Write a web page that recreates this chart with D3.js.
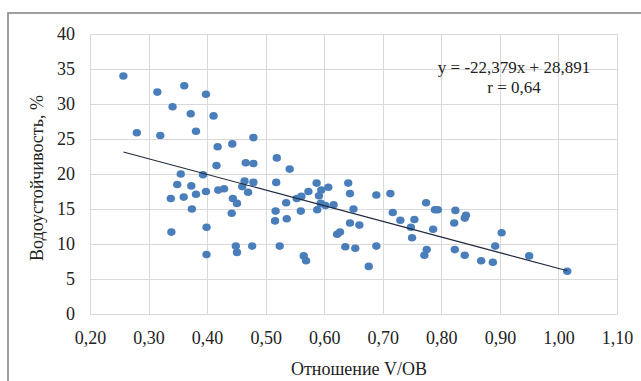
<!DOCTYPE html>
<html><head><meta charset="utf-8">
<script src="https://cdn.jsdelivr.net/npm/d3@7"></script>
<style>body{margin:0;background:#fff}svg{display:block}</style>
</head><body><svg id="c" width="641" height="381"></svg>
<script>
const xRatio = [0.257,0.280,0.315,0.320,0.338,0.339,0.341,0.349,0.355,0.360,0.361,0.372,0.373,0.374,0.381,0.381,0.393,0.398,0.398,0.399,0.399,0.411,0.416,0.418,0.419,0.429,0.442,0.443,0.444,0.449,0.451,0.451,0.460,0.464,0.466,0.470,0.477,0.479,0.479,0.479,0.516,0.517,0.518,0.519,0.524,0.535,0.536,0.541,0.553,0.561,0.560,0.565,0.569,0.573,0.587,0.588,0.591,0.594,0.595,0.602,0.607,0.616,0.622,0.627,0.636,0.641,0.644,0.644,0.650,0.653,0.660,0.676,0.689,0.689,0.713,0.717,0.730,0.748,0.750,0.754,0.771,0.774,0.775,0.786,0.789,0.794,0.822,0.823,0.824,0.840,0.842,0.840,0.868,0.888,0.892,0.903,0.950,1.015];
const yWater = [34.0,25.9,31.7,25.5,16.5,11.7,29.6,18.5,20.0,16.7,32.6,28.6,18.3,15.0,26.1,17.1,19.9,31.4,17.5,12.4,8.5,28.3,21.2,23.9,17.7,17.9,14.4,24.3,16.5,9.7,15.8,8.8,18.2,19.0,21.6,17.4,9.7,25.2,21.5,18.8,13.3,14.7,18.8,22.3,9.7,15.9,13.6,20.7,16.5,16.8,14.7,8.3,7.6,17.5,18.7,14.9,16.9,15.8,17.7,15.5,18.1,15.6,11.4,11.7,9.6,18.7,17.2,13.0,15.0,9.4,12.7,6.8,17.0,9.7,17.2,14.5,13.4,12.4,10.9,13.5,8.4,15.9,9.2,12.1,14.9,14.9,13.0,9.2,14.8,13.7,14.1,8.4,7.6,7.4,9.7,11.6,8.3,6.1];
const xTicks = [0.2,0.3,0.4,0.5,0.6,0.7,0.8,0.9,1.0,1.1];
const yTicks = [0,5,10,15,20,25,30,35,40];
const slope = -22.379, intercept = 28.891;
const eqLines = ["y = -22,379x + 28,891", "r = 0,64"];
const xTitle = "Отношение V/ОВ";
const yTitle = "Водоустойчивость, %";

const FONT = "Liberation Serif";
const svg = d3.select("#c");
const L=90, R=617, T=34, B=314;
const x = d3.scaleLinear().domain([0.2,1.1]).range([L,R]);
const y = d3.scaleLinear().domain([0,40]).range([B,T]);
const fmt = d => d3.format(".2f")(d).replace(".", ",");

svg.append("path").attr("d","M8,381V13H641").attr("fill","none").attr("stroke","#808080").attr("stroke-width",1.5);

svg.append("g").selectAll("line").data(xTicks).join("line")
  .attr("x1",d=>Math.round(x(d))+0.5).attr("x2",d=>Math.round(x(d))+0.5).attr("y1",T).attr("y2",B)
  .attr("stroke","#d9d9d9").attr("stroke-width",1);
svg.append("g").selectAll("line").data(yTicks).join("line")
  .attr("y1",d=>Math.round(y(d))+0.5).attr("y2",d=>Math.round(y(d))+0.5).attr("x1",L).attr("x2",R)
  .attr("stroke","#d9d9d9").attr("stroke-width",1);

const xa = svg.append("g").attr("transform",`translate(0,${B})`)
  .call(d3.axisBottom(x).tickValues(xTicks).tickFormat(fmt).tickSize(0).tickPadding(17))
  .attr("font-family",FONT).attr("font-size",18);
xa.select(".domain").attr("stroke","#d9d9d9");
xa.selectAll("text").attr("font-family",FONT).attr("font-size",18).attr("fill","#222");
const ya = svg.append("g").attr("transform",`translate(${L},0)`)
  .call(d3.axisLeft(y).tickValues(yTicks).tickSize(0).tickPadding(15))
  .attr("font-family",FONT).attr("font-size",18);
ya.select(".domain").attr("stroke","#d9d9d9");
ya.selectAll("text").attr("font-family",FONT).attr("font-size",18).attr("fill","#222");

svg.append("g").selectAll("ellipse").data(xRatio.map((v,i)=>[v,yWater[i]])).join("ellipse")
  .attr("cx",d=>x(d[0])).attr("cy",d=>y(d[1])).attr("rx",4.2).attr("ry",3.8)
  .attr("fill","#4a7ebb");

const x0 = d3.min(xRatio), x1 = d3.max(xRatio);
svg.append("line").attr("x1",x(x0)).attr("y1",y(slope*x0+intercept))
  .attr("x2",x(x1)).attr("y2",y(slope*x1+intercept))
  .attr("stroke","#1e2a3c").attr("stroke-width",1.2);

svg.append("g").selectAll("text").data(eqLines).join("text")
  .attr("x",514).attr("y",(d,i)=>73+i*20).attr("text-anchor","middle")
  .attr("font-family",FONT).attr("font-size",17).attr("fill","#222").text(d=>d);

svg.append("text").attr("x",359).attr("y",375).attr("text-anchor","middle")
  .attr("font-family",FONT).attr("font-size",18).attr("fill","#222").text(xTitle);
svg.append("text").attr("transform","translate(43,178) rotate(-90)").attr("text-anchor","middle")
  .attr("font-family",FONT).attr("font-size",18).attr("fill","#222").text(yTitle);
</script></body></html>
